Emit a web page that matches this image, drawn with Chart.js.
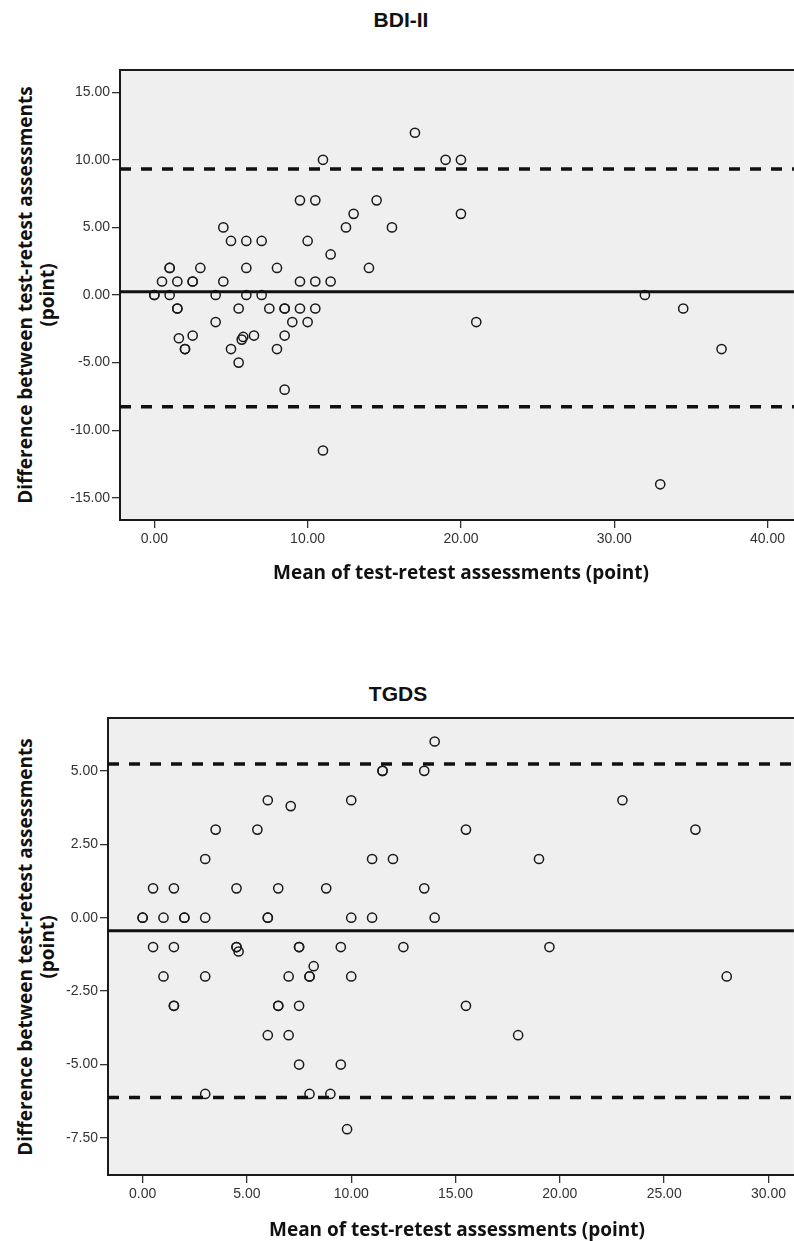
<!DOCTYPE html>
<html lang="en">
<head>
    <meta charset="UTF-8">
    <title>BDI-II / TGDS</title>
    <script src="https://cdn.jsdelivr.net/npm/chart.js"></script>
    <style>
        body { margin: 0; width: 794px; height: 1241px; background: #fff; position: relative; overflow: hidden; }
        .caixa { position: absolute; left: 0; width: 800px; }
        .titulo { position: absolute; font: bold 21px 'Liberation Sans', Arial, sans-serif; color: #111; transform: translate(-50%, -50%); white-space: nowrap; }
        .eixoX { position: absolute; font: bold 19px 'Open Sans', sans-serif; color: #111; transform: translate(-50%, -50%); white-space: nowrap; }
        .eixoY { position: absolute; font: bold 19px 'Open Sans', sans-serif; color: #111; text-align: center; line-height: 22px; transform: translate(-50%, -50%) rotate(-90deg); white-space: nowrap; }
    </style>
</head>
<body>
    <div class="titulo" style="left:401px; top:20px;">BDI-II</div>
    <div class="eixoY" style="left:36px; top:295px;">Difference between test-retest assessments<br>(point)</div>
    <div class="caixa" style="top:0; height:600px;"><canvas id="grafico_bdi"></canvas></div>
    <div class="eixoX" style="left:461px; top:572px;">Mean of test-retest assessments (point)</div>

    <div class="titulo" style="left:398px; top:694px;">TGDS</div>
    <div class="eixoY" style="left:36px; top:947px;">Difference between test-retest assessments<br>(point)</div>
    <div class="caixa" style="top:640px; height:601px;"><canvas id="grafico_tgds"></canvas></div>
    <div class="eixoX" style="left:457px; top:1229px;">Mean of test-retest assessments (point)</div>

<script>
// BDI-II: media (x) e diferenca (y) de cada paciente
const bdiMedia = [0, 0, 0.5, 1, 1, 1, 1.5, 1.5, 1.5, 2.5, 2.5, 3, 4, 4.5, 4.5, 5, 5.5, 6, 6, 6,
    7, 7, 7.5, 8, 8.5, 8.5, 9.5, 9.5, 9.5, 10, 10.5, 10.5, 10.5, 11, 11.5, 11.5, 12.5, 13, 14, 14.5,
    15.5, 17, 19, 20, 20, 21, 32, 34.5, 37, 33, 1.6, 2, 2, 4, 5, 5.5, 5.7, 5.8, 6.5, 8,
    8.5, 8.5, 9, 10, 11, 2.5];
const bdiDiferenca = [0, 0, 1, 2, 2, 0, 1, -1, -1, 1, 1, 2, 0, 1, 5, 4, -1, 4, 2, 0,
    4, 0, -1, 2, -1, -1, 7, 1, -1, 4, 7, 1, -1, 10, 3, 1, 5, 6, 2, 7,
    5, 12, 10, 10, 6, -2, 0, -1, -4, -14, -3.2, -4, -4, -2, -4, -5, -3.3, -3.1, -3, -4,
    -3, -7, -2, -2, -11.5, -3];
const bdiLinhas = [0.24, 9.32, -8.26];   // media, limite superior, limite inferior
const bdiEixoX = [-2.24, 41.72];
const bdiEixoY = [-16.64, 16.64];
const bdiTicksX = [0, 10, 20, 30, 40];
const bdiTicksY = [-15, -10, -5, 0, 5, 10, 15];

// TGDS
const tgdsMedia = [0, 0, 0.5, 1, 0.5, 1.5, 2, 2, 1.5, 1, 3, 3, 3, 3.5, 4.5, 4.5, 4.5, 4.6, 5.5, 6,
    6, 6, 6.5, 7.1, 7, 7.5, 7.5, 8, 8, 8.2, 8.8, 9.5, 10, 10, 10, 11, 11, 11.5, 11.5, 12,
    12.5, 14, 13.5, 23, 15.5, 26.5, 19, 13.5, 14, 19.5, 28, 1.5, 1.5, 6.5, 6.5, 7.5, 6, 7, 7.5, 9.5,
    3, 8, 9, 9.8, 15.5, 18];
const tgdsDiferenca = [0, 0, 1, 0, -1, 1, 0, 0, -1, -2, 2, 0, -2, 3, 1, -1, -1, -1.15, 3, 4,
    0, 0, 1, 3.8, -2, -1, -1, -2, -2, -1.65, 1, -1, 4, 0, -2, 2, 0, 5, 5, 2,
    -1, 6, 5, 4, 3, 3, 2, 1, 0, -1, -2, -3, -3, -3, -3, -3, -4, -4, -5, -5,
    -6, -6, -6, -7.2, -3, -4];
const tgdsLinhas = [-0.44, 5.23, -6.12];
const tgdsEixoX = [-1.66, 31.22];
const tgdsEixoY = [-8.76, 6.8];
const tgdsTicksX = [0, 5, 10, 15, 20, 25, 30];
const tgdsTicksY = [-7.5, -5, -2.5, 0, 2.5, 5];

// fundo cinza e moldura da area do grafico
const moldura = {
    id: 'moldura',
    beforeDatasetsDraw(chart) {
        const ctx = chart.ctx;
        const a = chart.chartArea;
        ctx.save();
        ctx.fillStyle = '#efefef';
        ctx.fillRect(a.left, a.top, a.right - a.left, a.bottom - a.top);
        ctx.strokeStyle = '#1a1a1a';
        ctx.lineWidth = 2;
        ctx.beginPath();
        ctx.moveTo(a.right + 2, a.top);
        ctx.lineTo(a.left, a.top);
        ctx.lineTo(a.left, a.bottom);
        ctx.lineTo(a.right + 2, a.bottom);
        ctx.stroke();
        ctx.restore();
    }
};

function linha(valor, eixoX, tracejada) {
    return {
        type: 'scatter',
        data: [{ x: eixoX[0], y: valor }, { x: eixoX[1], y: valor }],
        showLine: true,
        borderColor: '#111',
        borderWidth: tracejada ? 3.5 : 3,
        borderDash: tracejada ? [11, 10] : [],
        pointRadius: 0,
        fill: false
    };
}

function plotarGrafico(id, medias, diferencas, linhas, eixoX, eixoY, ticksX, ticksY, topo, largY, altX) {
    let pontos = [];
    for (let i = 0; i < medias.length; i++) {
        pontos.push({ x: medias[i], y: diferencas[i] });
    }

    const fonteTick = { family: "'Liberation Sans', Arial, sans-serif", size: 14 };

    const config = {
        type: 'scatter',
        data: {
            datasets: [
                linha(linhas[0], eixoX, false),
                linha(linhas[1], eixoX, true),
                linha(linhas[2], eixoX, true),
                {
                    data: pontos,
                    pointStyle: 'circle',
                    pointRadius: 4.6,
                    pointBorderWidth: 1.5,
                    pointBorderColor: '#1a1a1a',
                    pointBackgroundColor: 'rgba(0,0,0,0)'
                }
            ]
        },
        options: {
            responsive: true,
            maintainAspectRatio: false,
            animation: false,
            layout: { padding: { top: topo, left: 0, right: 0, bottom: 0 } },
            plugins: { legend: { display: false }, tooltip: { enabled: false } },
            scales: {
                x: {
                    type: 'linear',
                    min: eixoX[0],
                    max: eixoX[1],
                    afterBuildTicks: (eixo) => { eixo.ticks = ticksX.map(v => ({ value: v })); },
                    afterFit: (eixo) => { eixo.height = altX; eixo.paddingLeft = 0; eixo.paddingRight = 0; },
                    border: { display: false },
                    grid: { drawOnChartArea: false, drawTicks: true, tickLength: 8, color: '#333', lineWidth: 1.3 },
                    ticks: { font: fonteTick, color: '#333', padding: 3, maxRotation: 0, callback: v => v.toFixed(2) }
                },
                y: {
                    type: 'linear',
                    min: eixoY[0],
                    max: eixoY[1],
                    afterBuildTicks: (eixo) => { eixo.ticks = ticksY.map(v => ({ value: v })); },
                    afterFit: (eixo) => { eixo.width = largY; eixo.paddingTop = 0; eixo.paddingBottom = 0; },
                    border: { display: false },
                    grid: { drawOnChartArea: false, drawTicks: true, tickLength: 8, color: '#333', lineWidth: 1.3 },
                    ticks: { font: fonteTick, color: '#333', padding: 2, callback: v => v.toFixed(2) }
                }
            }
        },
        plugins: [moldura]
    };

    return new Chart(document.getElementById(id), config);
}

plotarGrafico('grafico_bdi', bdiMedia, bdiDiferenca, bdiLinhas, bdiEixoX, bdiEixoY, bdiTicksX, bdiTicksY, 70, 120, 80);
plotarGrafico('grafico_tgds', tgdsMedia, tgdsDiferenca, tgdsLinhas, tgdsEixoX, tgdsEixoY, tgdsTicksX, tgdsTicksY, 78, 108, 66);
</script>
</body>
</html>
